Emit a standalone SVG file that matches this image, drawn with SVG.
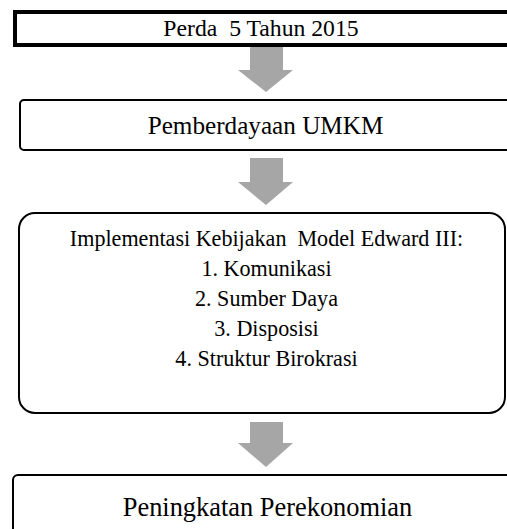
<svg xmlns="http://www.w3.org/2000/svg" width="507" height="529" viewBox="0 0 507 529">
<defs>
<style>
.t{font-family:'Liberation Serif','Times New Roman',Tinos,'DejaVu Serif',serif;fill:#000;text-anchor:middle}
.box{fill:#fff;stroke:#000;stroke-width:2}
.arr{fill:#a6a6a6;stroke:none}
</style>
</defs>
<rect width="507" height="529" fill="#fff"/>
<g id="connectors">
<path class="arr" d="M250,47 H283 V70 H293 L266,92 L238,70 H250 Z"/>
<path class="arr" d="M250,158 H283 V182 H293 L266,205 L238,182 H250 Z"/>
<path class="arr" d="M250,422 H283 V443 H293 L266,467 L238,443 H250 Z"/>
</g>
<g id="node1">
<rect x="15" y="12" width="500" height="33" fill="#fff" stroke="#000" stroke-width="4"/>
<text class="t" x="261" y="36" font-size="23.7" xml:space="preserve">Perda  5 Tahun 2015</text>
</g>
<g id="node2">
<rect class="box" x="20" y="100" width="500" height="50" rx="4"/>
<text class="t" x="265.5" y="134" font-size="25.2">Pemberdayaan UMKM</text>
</g>
<g id="node3">
<rect class="box" x="19" y="213" width="486" height="200" rx="16"/>
<text class="t" x="266.5" y="246" font-size="22.1" xml:space="preserve">Implementasi Kebijakan  Model Edward III:</text>
<text class="t" x="266.5" y="276" font-size="22.1">1. Komunikasi</text>
<text class="t" x="266.5" y="306" font-size="22.1">2. Sumber Daya</text>
<text class="t" x="266.5" y="336" font-size="22.1">3. Disposisi</text>
<text class="t" x="266.5" y="366" font-size="22.1">4. Struktur Birokrasi</text>
</g>
<g id="node4">
<rect class="box" x="13" y="475" width="510" height="70" rx="5"/>
<text class="t" x="267.5" y="516" font-size="26.4">Peningkatan Perekonomian</text>
</g>
</svg>
